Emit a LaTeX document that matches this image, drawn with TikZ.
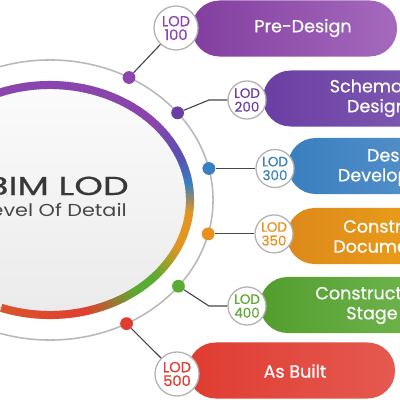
\documentclass[tikz,border=0pt]{standalone}
\usepackage{fontspec}
\usepackage{graphicx}
\setmainfont{Poppins}
\newfontfamily\popmed{Poppins}[FakeBold=0.5]
\usetikzlibrary{calc}
\definecolor{arcA}{HTML}{8A45AD}
\definecolor{arcB}{HTML}{5A50B0}
\definecolor{arcC}{HTML}{3A7FC3}
\definecolor{arcD}{HTML}{E39522}
\definecolor{arcE}{HTML}{5AAB32}
\definecolor{arcF}{HTML}{E04030}
\definecolor{arcG}{HTML}{D9542C}
\definecolor{cP1}{HTML}{8E44AD}
\definecolor{cP2}{HTML}{6A3FA4}
\definecolor{cBl}{HTML}{3A7FC0}
\definecolor{cOr}{HTML}{E8901C}
\definecolor{cGr}{HTML}{5AAB32}
\definecolor{cRd}{HTML}{E03C31}
\begin{document}
\begin{tikzpicture}[x=0.025cm,y=-0.025cm,
  pill/.style={rectangle, rounded corners=0.69cm, minimum height=1.4cm, inner sep=0pt, draw=none},
  pilltext/.style={text=white, font=\popmed\fontsize{12.5}{14.2}\selectfont, align=center, inner sep=0pt},
  lod/.style={circle, draw=black!30, line width=0.9pt, fill=white, inner sep=0pt, align=center},
  lodbig/.style={lod, minimum size=1.1cm, font=\popmed\fontsize{10.4}{9.8}\selectfont},
  lodsm/.style={lod, minimum size=0.95cm, font=\popmed\fontsize{9.6}{9.8}\selectfont},
  dot/.style={circle, minimum size=0.32cm, inner sep=0pt},
  conn/.style={draw=black!72, line width=0.8pt},
  ring/.style={draw=black!28, line width=1.1pt}]
\useasboundingbox (0,0) rectangle (400,400);
\clip (0,0) rectangle (400,400);
\fill[white] (0,0) rectangle (400,400);
\coordinate (c) at (50,200);
% inner disc
\fill[top color=gray!3, bottom color=gray!16] (c) ellipse [x radius=3.5cm, y radius=2.875cm];
% coloured rim
\foreach \ta/\tb/\ca/\cb in {-185/-42/arcA/arcA, -42/-22/arcA/arcB, -22/-8/arcB/arcC, -8/6/arcC/arcD, 6/24/arcD/arcD, 24/42/arcD/arcE, 42/52/arcE/arcE, 52/75/arcE/arcF, 75/110/arcF/arcG}{
  \pgfmathtruncatemacro\n{\tb-\ta}
  \foreach \k in {1,...,\n}{
    \pgfmathsetmacro\s{-(\ta+\k-1)}
    \pgfmathsetmacro\e{-(\ta+\k+0.4)}
    \pgfmathtruncatemacro\pc{100*(\k-0.5)/\n}
    \draw[line width=0.2cm, draw=\cb!\pc!\ca] ($(c)+(\s:3.5cm and 2.875cm)$) arc[start angle=\s, end angle=\e, x radius=3.5cm, y radius=2.875cm];
  }
}
% outer ring
\draw[ring] (c) ellipse [x radius=4.075cm, y radius=3.5cm];
% centre text
\node[anchor=base east, inner sep=0pt, text=black!78, font=\popmed\fontsize{18.5}{21}\selectfont] (tbim) at (129,195) {\scalebox{1.4}[1]{BIM LOD}};
\node[anchor=base east, inner sep=0pt, text=black!72, font=\fontsize{12.3}{14}\selectfont] (tlvl) at (127,216.5) {\scalebox{1.2}[1]{Level Of Detail}};
% pills
\node[pill, minimum width=5.125cm, left color=cP1!92!black, right color=cP1!80!white] (p1) at (294.5,28.5) {};
\node[pill, minimum width=4.425cm, left color=cP2, right color=cP2!85!white] (p2) at (351.5,98.5) {};
\node[pill, minimum width=3.8cm, left color=cBl, right color=cBl!85!white] (p3) at (364,166) {};
\node[pill, minimum width=3.825cm, left color=cOr!95!black, right color=cOr!85!yellow] (p4) at (363.5,236) {};
\node[pill, minimum width=4.5cm, left color=cGr!92!black, right color=cGr!85!white] (p5) at (350,305) {};
\node[pill, minimum width=5.175cm, left color=cRd, right color=cRd!85!white] (p6) at (291.5,370.5) {};
\node[pilltext] (t1) at (303,28) {Pre-Design};
\node[pilltext] (t2) at (377,98) {Schematic\\Design};
\node[pilltext] (t3) at (397,167) {Design\\Development};
\node[pilltext, align=left, anchor=west] (t4) at (333,236) {\hspace*{0.25cm}Construction\\Documents};
\node[pilltext] (t5) at (372,305) {Construction\\Stage};
\node[pilltext] (t6) at (295,371) {As Built};
% dots on ring
\node[dot, fill=cP1] (d100) at ($(c)+(61:4.075cm and 3.5cm)$) {};
\node[dot, fill=cP2] (d200) at ($(c)+(38.5:4.075cm and 3.5cm)$) {};
\node[dot, fill=cBl] (d300) at ($(c)+(13:4.075cm and 3.5cm)$) {};
\node[dot, fill=cOr] (d350) at ($(c)+(-14:4.075cm and 3.5cm)$) {};
\node[dot, fill=cGr] (d400) at ($(c)+(-38:4.075cm and 3.5cm)$) {};
\node[dot, fill=cRd] (d500) at ($(c)+(-62:4.075cm and 3.5cm)$) {};
% LOD badges
\node[lodbig, text=cP1] (L100) at (176,28) {LOD\\100};
\node[lodsm, text=cP2] (L200) at (247,100) {LOD\\200};
\node[lodsm, text=cBl] (L300) at (275,0 |- d300) {LOD\\300};
\node[lodsm, text=cOr] (L350) at (274,0 |- d350) {LOD\\350};
\node[lodsm, text=cGr] (L400) at (247,306) {LOD\\400};
\node[lodbig, text=cRd] (L500) at (177,374) {LOD\\500};
\coordinate (c200) at (209,100);
\coordinate (c400) at (209,306);
% connectors
\draw[conn] (d100) -- (L100);
\draw[conn] (d200) -- (c200) -- (L200);
\draw[conn] (d300) -- (L300);
\draw[conn] (d350) -- (L350);
\draw[conn] (d400) -- (c400) -- (L400);
\draw[conn] (d500) -- (L500);
\end{tikzpicture}
\end{document}
